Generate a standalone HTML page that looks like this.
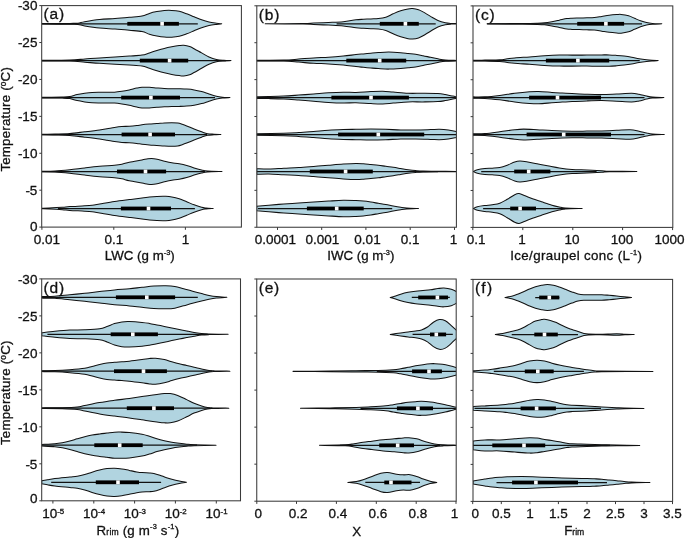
<!DOCTYPE html>
<html><head><meta charset="utf-8"><title>Violin plots</title>
<style>
html,body{margin:0;padding:0;background:#fff;}
svg text{stroke:#111;stroke-width:0.3px;}
body{width:685px;height:538px;overflow:hidden;position:relative;font-family:"Liberation Sans",sans-serif;}
</style></head><body>
<svg width="685" height="538" viewBox="0 0 685 538" style="position:absolute;left:0;top:0;will-change:transform;font-family:'Liberation Sans',sans-serif" fill="#111">
<rect x="0" y="0" width="685" height="538" fill="#fff"/>
<defs>
<clipPath id="cpa"><rect x="41.7" y="5.6" width="199.7" height="221.5"/></clipPath>
<clipPath id="cpb"><rect x="256.8" y="5.8" width="199.6" height="221.45"/></clipPath>
<clipPath id="cpc"><rect x="473" y="5.9" width="199.8" height="221.5"/></clipPath>
<clipPath id="cpd"><rect x="41.7" y="278.9" width="198.8" height="221.9"/></clipPath>
<clipPath id="cpe"><rect x="256.75" y="279" width="199.45" height="222.2"/></clipPath>
<clipPath id="cpf"><rect x="473" y="279.4" width="199.6" height="222"/></clipPath>
</defs>
<g clip-path="url(#cpa)">
<path d="M42 23.5C46.67 23.48 64 23.45 70 23.4C76 23.35 75.55 23.48 78 23.2C80.45 22.92 81.1 22.32 84.7 21.7C88.3 21.08 94.55 20.03 99.6 19.5C104.65 18.97 110.05 18.87 115 18.5C119.95 18.13 124.8 17.7 129.3 17.3C133.8 16.9 138.65 16.75 142 16.1C145.35 15.45 146.92 14.15 149.4 13.4C151.88 12.65 154.42 12.08 156.9 11.6C159.38 11.12 161.82 10.7 164.3 10.5C166.78 10.3 169.32 10.27 171.8 10.4C174.28 10.53 176.72 10.73 179.2 11.3C181.68 11.87 184.22 12.88 186.7 13.8C189.18 14.72 191.62 15.8 194.1 16.8C196.58 17.8 199.12 18.93 201.6 19.8C204.08 20.67 206.53 21.43 209 22C211.47 22.57 214.28 22.9 216.4 23.2C218.52 23.5 220.82 23.7 221.7 23.8L221.7 23.8C220.82 23.9 218.52 24.1 216.4 24.4C214.28 24.7 211.47 25.03 209 25.6C206.53 26.17 204.08 26.93 201.6 27.8C199.12 28.67 196.58 29.8 194.1 30.8C191.62 31.8 189.18 32.88 186.7 33.8C184.22 34.72 181.68 35.73 179.2 36.3C176.72 36.87 174.28 37.07 171.8 37.2C169.32 37.33 166.78 37.3 164.3 37.1C161.82 36.9 159.38 36.48 156.9 36C154.42 35.52 151.88 34.95 149.4 34.2C146.92 33.45 145.35 32.15 142 31.5C138.65 30.85 133.8 30.7 129.3 30.3C124.8 29.9 119.95 29.47 115 29.1C110.05 28.73 104.65 28.63 99.6 28.1C94.55 27.57 88.3 26.52 84.7 25.9C81.1 25.28 80.45 24.68 78 24.4C75.55 24.12 76 24.25 70 24.2C64 24.15 46.67 24.12 42 24.1Z" fill="#b1d4e0" stroke="#111" stroke-width="1.05" stroke-linejoin="round"/><line x1="42" y1="23.8" x2="197.8" y2="23.8" stroke="#111" stroke-width="1.25"/><rect x="127.3" y="21.9" width="51.6" height="3.8" fill="#000"/><rect x="160.3" y="21.9" width="3.6" height="3.8" fill="#fff"/>
<path d="M42 60.3C46.63 60.27 62.63 60.32 69.8 60.1C76.97 59.88 80.03 59.37 85 59C89.97 58.63 94.6 58.23 99.6 57.9C104.6 57.57 110.05 57.3 115 57C119.95 56.7 124.8 56.42 129.3 56.1C133.8 55.78 138.65 55.63 142 55.1C145.35 54.57 146.92 53.67 149.4 52.9C151.88 52.13 154.42 51.25 156.9 50.5C159.38 49.75 161.82 49.02 164.3 48.4C166.78 47.78 169.32 47.27 171.8 46.8C174.28 46.33 177.22 45.85 179.2 45.6C181.18 45.35 181.97 45.15 183.7 45.3C185.43 45.45 187.87 45.93 189.6 46.5C191.33 47.07 192.1 47.63 194.1 48.7C196.1 49.77 199.12 51.53 201.6 52.9C204.08 54.27 206.53 55.82 209 56.9C211.47 57.98 213.92 58.83 216.4 59.4C218.88 59.97 221.47 60.1 223.9 60.3C226.33 60.5 229.82 60.55 231 60.6L231 60.6C229.82 60.65 226.33 60.7 223.9 60.9C221.47 61.1 218.88 61.23 216.4 61.8C213.92 62.37 211.47 63.22 209 64.3C206.53 65.38 204.08 66.93 201.6 68.3C199.12 69.67 196.1 71.43 194.1 72.5C192.1 73.57 191.33 74.13 189.6 74.7C187.87 75.27 185.43 75.75 183.7 75.9C181.97 76.05 181.18 75.85 179.2 75.6C177.22 75.35 174.28 74.87 171.8 74.4C169.32 73.93 166.78 73.42 164.3 72.8C161.82 72.18 159.38 71.45 156.9 70.7C154.42 69.95 151.88 69.07 149.4 68.3C146.92 67.53 145.35 66.63 142 66.1C138.65 65.57 133.8 65.42 129.3 65.1C124.8 64.78 119.95 64.5 115 64.2C110.05 63.9 104.6 63.63 99.6 63.3C94.6 62.97 89.97 62.57 85 62.2C80.03 61.83 76.97 61.32 69.8 61.1C62.63 60.88 46.63 60.93 42 60.9Z" fill="#b1d4e0" stroke="#111" stroke-width="1.05" stroke-linejoin="round"/><line x1="42" y1="60.6" x2="226" y2="60.6" stroke="#111" stroke-width="1.25"/><rect x="139.8" y="58.7" width="48.4" height="3.8" fill="#000"/><rect x="167.8" y="58.7" width="3.6" height="3.8" fill="#fff"/>
<path d="M42 97.3C45.38 97.27 57.67 97.22 62.3 97.1C66.93 96.98 67.32 97.02 69.8 96.6C72.28 96.18 74.72 95.15 77.2 94.6C79.68 94.05 82.22 93.67 84.7 93.3C87.18 92.93 89.62 92.58 92.1 92.4C94.58 92.22 97.12 92.23 99.6 92.2C102.08 92.17 104.52 92.2 107 92.2C109.48 92.2 112.02 92.35 114.5 92.2C116.98 92.05 119.43 91.68 121.9 91.3C124.37 90.92 126.82 90.43 129.3 89.9C131.78 89.37 134.68 88.53 136.8 88.1C138.92 87.67 139.9 87.43 142 87.3C144.1 87.17 146.92 87.2 149.4 87.3C151.88 87.4 154.42 87.72 156.9 87.9C159.38 88.08 161.82 88.27 164.3 88.4C166.78 88.53 169.32 88.63 171.8 88.7C174.28 88.77 176.72 88.73 179.2 88.8C181.68 88.87 184.22 88.92 186.7 89.1C189.18 89.28 191.62 89.48 194.1 89.9C196.58 90.32 199.12 90.92 201.6 91.6C204.08 92.28 206.53 93.22 209 94C211.47 94.78 214.17 95.77 216.4 96.3C218.63 96.83 220.15 96.98 222.4 97.2C224.65 97.42 228.65 97.53 229.9 97.6L229.9 97.6C228.65 97.67 224.65 97.78 222.4 98C220.15 98.22 218.63 98.37 216.4 98.9C214.17 99.43 211.47 100.42 209 101.2C206.53 101.98 204.08 102.92 201.6 103.6C199.12 104.28 196.58 104.88 194.1 105.3C191.62 105.72 189.18 105.92 186.7 106.1C184.22 106.28 181.68 106.33 179.2 106.4C176.72 106.47 174.28 106.43 171.8 106.5C169.32 106.57 166.78 106.67 164.3 106.8C161.82 106.93 159.38 107.12 156.9 107.3C154.42 107.48 151.88 107.8 149.4 107.9C146.92 108 144.1 108.03 142 107.9C139.9 107.77 138.92 107.53 136.8 107.1C134.68 106.67 131.78 105.83 129.3 105.3C126.82 104.77 124.37 104.28 121.9 103.9C119.43 103.52 116.98 103.15 114.5 103C112.02 102.85 109.48 103 107 103C104.52 103 102.08 103.03 99.6 103C97.12 102.97 94.58 102.98 92.1 102.8C89.62 102.62 87.18 102.27 84.7 101.9C82.22 101.53 79.68 101.15 77.2 100.6C74.72 100.05 72.28 99.02 69.8 98.6C67.32 98.18 66.93 98.22 62.3 98.1C57.67 97.98 45.38 97.93 42 97.9Z" fill="#b1d4e0" stroke="#111" stroke-width="1.05" stroke-linejoin="round"/><line x1="42" y1="97.6" x2="215" y2="97.6" stroke="#111" stroke-width="1.25"/><rect x="121.2" y="95.7" width="58.8" height="3.8" fill="#000"/><rect x="149.1" y="95.7" width="3.6" height="3.8" fill="#fff"/>
<path d="M42 134.2C44.17 134.17 50.37 134.12 55 134C59.63 133.88 64.85 133.87 69.8 133.5C74.75 133.13 79.73 132.38 84.7 131.8C89.67 131.22 95.88 130.5 99.6 130C103.32 129.5 104.52 129.23 107 128.8C109.48 128.37 112.02 127.78 114.5 127.4C116.98 127.02 119.43 126.68 121.9 126.5C124.37 126.32 126.82 126.45 129.3 126.3C131.78 126.15 134.68 125.85 136.8 125.6C138.92 125.35 139.9 125.05 142 124.8C144.1 124.55 146.92 124.3 149.4 124.1C151.88 123.9 154.42 123.78 156.9 123.6C159.38 123.42 161.82 123.15 164.3 123C166.78 122.85 169.57 122.68 171.8 122.7C174.03 122.72 175.97 122.83 177.7 123.1C179.43 123.37 180.7 123.83 182.2 124.3C183.7 124.77 184.72 125.12 186.7 125.9C188.68 126.68 191.62 128.02 194.1 129C196.58 129.98 199.37 131.02 201.6 131.8C203.83 132.58 205.43 133.3 207.5 133.7C209.57 134.1 211.77 134.07 214 134.2C216.23 134.33 219.75 134.45 220.9 134.5L220.9 134.5C219.75 134.55 216.23 134.67 214 134.8C211.77 134.93 209.57 134.9 207.5 135.3C205.43 135.7 203.83 136.42 201.6 137.2C199.37 137.98 196.58 139.02 194.1 140C191.62 140.98 188.68 142.32 186.7 143.1C184.72 143.88 183.7 144.23 182.2 144.7C180.7 145.17 179.43 145.63 177.7 145.9C175.97 146.17 174.03 146.28 171.8 146.3C169.57 146.32 166.78 146.15 164.3 146C161.82 145.85 159.38 145.58 156.9 145.4C154.42 145.22 151.88 145.1 149.4 144.9C146.92 144.7 144.1 144.45 142 144.2C139.9 143.95 138.92 143.65 136.8 143.4C134.68 143.15 131.78 142.85 129.3 142.7C126.82 142.55 124.37 142.68 121.9 142.5C119.43 142.32 116.98 141.98 114.5 141.6C112.02 141.22 109.48 140.63 107 140.2C104.52 139.77 103.32 139.5 99.6 139C95.88 138.5 89.67 137.78 84.7 137.2C79.73 136.62 74.75 135.87 69.8 135.5C64.85 135.13 59.63 135.12 55 135C50.37 134.88 44.17 134.83 42 134.8Z" fill="#b1d4e0" stroke="#111" stroke-width="1.05" stroke-linejoin="round"/><line x1="42" y1="134.5" x2="207" y2="134.5" stroke="#111" stroke-width="1.25"/><rect x="121.6" y="132.6" width="53.4" height="3.8" fill="#000"/><rect x="148.3" y="132.6" width="3.6" height="3.8" fill="#fff"/>
<path d="M42 171.2C44.17 171.17 50.37 171.25 55 171C59.63 170.75 64.85 170.22 69.8 169.7C74.75 169.18 79.73 168.47 84.7 167.9C89.67 167.33 94.63 166.75 99.6 166.3C104.57 165.85 110.78 165.55 114.5 165.2C118.22 164.85 119.43 164.68 121.9 164.2C124.37 163.72 125.95 163 129.3 162.3C132.65 161.6 138.88 160.58 142 160C145.12 159.42 146.02 159.02 148 158.8C149.98 158.58 151.92 158.5 153.9 158.7C155.88 158.9 157.92 159.53 159.9 160C161.88 160.47 163.82 161.05 165.8 161.5C167.78 161.95 169.57 162.32 171.8 162.7C174.03 163.08 176.72 163.33 179.2 163.8C181.68 164.27 184.22 164.82 186.7 165.5C189.18 166.18 191.62 167.15 194.1 167.9C196.58 168.65 199.37 169.48 201.6 170C203.83 170.52 204.1 170.75 207.5 171C210.9 171.25 219.58 171.42 222 171.5L222 171.5C219.58 171.58 210.9 171.75 207.5 172C204.1 172.25 203.83 172.48 201.6 173C199.37 173.52 196.58 174.35 194.1 175.1C191.62 175.85 189.18 176.82 186.7 177.5C184.22 178.18 181.68 178.73 179.2 179.2C176.72 179.67 174.03 179.92 171.8 180.3C169.57 180.68 167.78 181.05 165.8 181.5C163.82 181.95 161.88 182.53 159.9 183C157.92 183.47 155.88 184.1 153.9 184.3C151.92 184.5 149.98 184.42 148 184.2C146.02 183.98 145.12 183.58 142 183C138.88 182.42 132.65 181.4 129.3 180.7C125.95 180 124.37 179.28 121.9 178.8C119.43 178.32 118.22 178.15 114.5 177.8C110.78 177.45 104.57 177.15 99.6 176.7C94.63 176.25 89.67 175.67 84.7 175.1C79.73 174.53 74.75 173.82 69.8 173.3C64.85 172.78 59.63 172.25 55 172C50.37 171.75 44.17 171.83 42 171.8Z" fill="#b1d4e0" stroke="#111" stroke-width="1.05" stroke-linejoin="round"/><line x1="42" y1="171.5" x2="205" y2="171.5" stroke="#111" stroke-width="1.25"/><rect x="117" y="169.6" width="49.1" height="3.8" fill="#000"/><rect x="143.7" y="169.6" width="3.6" height="3.8" fill="#fff"/>
<path d="M42 208.2C43.17 208.17 45.62 208.15 49 208C52.38 207.85 58.83 207.53 62.3 207.3C65.77 207.07 66.07 206.85 69.8 206.6C73.53 206.35 80.98 206.03 84.7 205.8C88.42 205.57 89.62 205.5 92.1 205.2C94.58 204.9 95.87 204.62 99.6 204C103.33 203.38 109.55 202.23 114.5 201.5C119.45 200.77 124.72 200.17 129.3 199.6C133.88 199.03 138.65 198.53 142 198.1C145.35 197.67 146.92 197.28 149.4 197C151.88 196.72 154.17 196.52 156.9 196.4C159.63 196.28 163.32 196.22 165.8 196.3C168.28 196.38 169.57 196.48 171.8 196.9C174.03 197.32 176.72 197.98 179.2 198.8C181.68 199.62 184.22 200.8 186.7 201.8C189.18 202.8 191.62 203.88 194.1 204.8C196.58 205.72 199.62 206.77 201.6 207.3C203.58 207.83 204.07 207.8 206 208C207.93 208.2 212 208.42 213.2 208.5L213.2 208.5C212 208.58 207.93 208.8 206 209C204.07 209.2 203.58 209.17 201.6 209.7C199.62 210.23 196.58 211.28 194.1 212.2C191.62 213.12 189.18 214.2 186.7 215.2C184.22 216.2 181.68 217.38 179.2 218.2C176.72 219.02 174.03 219.68 171.8 220.1C169.57 220.52 168.28 220.62 165.8 220.7C163.32 220.78 159.63 220.72 156.9 220.6C154.17 220.48 151.88 220.28 149.4 220C146.92 219.72 145.35 219.33 142 218.9C138.65 218.47 133.88 217.97 129.3 217.4C124.72 216.83 119.45 216.23 114.5 215.5C109.55 214.77 103.33 213.62 99.6 213C95.87 212.38 94.58 212.1 92.1 211.8C89.62 211.5 88.42 211.43 84.7 211.2C80.98 210.97 73.53 210.65 69.8 210.4C66.07 210.15 65.77 209.93 62.3 209.7C58.83 209.47 52.38 209.15 49 209C45.62 208.85 43.17 208.83 42 208.8Z" fill="#b1d4e0" stroke="#111" stroke-width="1.05" stroke-linejoin="round"/><line x1="57.9" y1="208.5" x2="194.9" y2="208.5" stroke="#111" stroke-width="1.25"/><rect x="120.9" y="206.6" width="50.1" height="3.8" fill="#000"/><rect x="146.7" y="206.6" width="3.6" height="3.8" fill="#fff"/>
</g>
<g clip-path="url(#cpb)">
<path d="M265.2 23.8C271.5 23.75 294.93 23.62 303 23.5C311.07 23.38 309.35 23.27 313.6 23.1C317.85 22.93 323.55 22.73 328.5 22.5C333.45 22.27 338.72 22.15 343.3 21.7C347.88 21.25 352.65 20.2 356 19.8C359.35 19.4 360.92 19.45 363.4 19.3C365.88 19.15 368.42 19.02 370.9 18.9C373.38 18.78 375.82 18.88 378.3 18.6C380.78 18.32 383.32 18 385.8 17.2C388.28 16.4 390.72 14.87 393.2 13.8C395.68 12.73 398.22 11.62 400.7 10.8C403.18 9.98 406.12 9.27 408.1 8.9C410.08 8.53 410.87 8.47 412.6 8.6C414.33 8.73 416.77 9.15 418.5 9.7C420.23 10.25 421 10.78 423 11.9C425 13.02 428.02 14.97 430.5 16.4C432.98 17.83 435.43 19.43 437.9 20.5C440.37 21.57 443.07 22.3 445.3 22.8C447.53 23.3 449.43 23.37 451.3 23.5C453.17 23.63 455.63 23.58 456.5 23.6L456.5 24C455.63 24.02 453.17 23.97 451.3 24.1C449.43 24.23 447.53 24.3 445.3 24.8C443.07 25.3 440.37 26.03 437.9 27.1C435.43 28.17 432.98 29.77 430.5 31.2C428.02 32.63 425 34.58 423 35.7C421 36.82 420.23 37.35 418.5 37.9C416.77 38.45 414.33 38.87 412.6 39C410.87 39.13 410.08 39.07 408.1 38.7C406.12 38.33 403.18 37.62 400.7 36.8C398.22 35.98 395.68 34.87 393.2 33.8C390.72 32.73 388.28 31.2 385.8 30.4C383.32 29.6 380.78 29.28 378.3 29C375.82 28.72 373.38 28.82 370.9 28.7C368.42 28.58 365.88 28.45 363.4 28.3C360.92 28.15 359.35 28.2 356 27.8C352.65 27.4 347.88 26.35 343.3 25.9C338.72 25.45 333.45 25.33 328.5 25.1C323.55 24.87 317.85 24.67 313.6 24.5C309.35 24.33 311.07 24.22 303 24.1C294.93 23.98 271.5 23.85 265.2 23.8Z" fill="#b1d4e0" stroke="#111" stroke-width="1.05" stroke-linejoin="round"/><line x1="336.6" y1="23.8" x2="435.7" y2="23.8" stroke="#111" stroke-width="1.25"/><rect x="379.8" y="21.9" width="39" height="3.8" fill="#000"/><rect x="403.6" y="21.9" width="3.6" height="3.8" fill="#fff"/>
<path d="M256.7 60.3C261.22 60.27 276.8 60.3 283.8 60.1C290.8 59.9 293.73 59.47 298.7 59.1C303.67 58.73 308.63 58.2 313.6 57.9C318.57 57.6 323.55 57.6 328.5 57.3C333.45 57 338.72 56.55 343.3 56.1C347.88 55.65 352.65 54.97 356 54.6C359.35 54.23 360.92 54.13 363.4 53.9C365.88 53.67 368.42 53.42 370.9 53.2C373.38 52.98 375.32 52.78 378.3 52.6C381.28 52.42 385.07 52.08 388.8 52.1C392.53 52.12 397.48 52.47 400.7 52.7C403.92 52.93 405.62 53.23 408.1 53.5C410.58 53.77 413.12 53.93 415.6 54.3C418.08 54.67 420.52 55.2 423 55.7C425.48 56.2 428.02 56.78 430.5 57.3C432.98 57.82 435.43 58.35 437.9 58.8C440.37 59.25 442.2 59.73 445.3 60C448.4 60.27 454.63 60.33 456.5 60.4L456.5 60.8C454.63 60.87 448.4 60.93 445.3 61.2C442.2 61.47 440.37 61.95 437.9 62.4C435.43 62.85 432.98 63.38 430.5 63.9C428.02 64.42 425.48 65 423 65.5C420.52 66 418.08 66.53 415.6 66.9C413.12 67.27 410.58 67.43 408.1 67.7C405.62 67.97 403.92 68.27 400.7 68.5C397.48 68.73 392.53 69.08 388.8 69.1C385.07 69.12 381.28 68.78 378.3 68.6C375.32 68.42 373.38 68.22 370.9 68C368.42 67.78 365.88 67.53 363.4 67.3C360.92 67.07 359.35 66.97 356 66.6C352.65 66.23 347.88 65.55 343.3 65.1C338.72 64.65 333.45 64.2 328.5 63.9C323.55 63.6 318.57 63.6 313.6 63.3C308.63 63 303.67 62.47 298.7 62.1C293.73 61.73 290.8 61.3 283.8 61.1C276.8 60.9 261.22 60.93 256.7 60.9Z" fill="#b1d4e0" stroke="#111" stroke-width="1.05" stroke-linejoin="round"/><line x1="256.7" y1="60.6" x2="456.5" y2="60.6" stroke="#111" stroke-width="1.25"/><rect x="346.3" y="58.7" width="59.9" height="3.8" fill="#000"/><rect x="377.9" y="58.7" width="3.6" height="3.8" fill="#fff"/>
<path d="M256.7 96.8C258.73 96.77 264.38 96.72 268.9 96.6C273.42 96.48 278.83 96.35 283.8 96.1C288.77 95.85 293.73 95.45 298.7 95.1C303.67 94.75 308.63 94.38 313.6 94C318.57 93.62 323.55 93.1 328.5 92.8C333.45 92.5 338.72 92.27 343.3 92.2C347.88 92.13 351.4 92.5 356 92.4C360.6 92.3 366.43 91.78 370.9 91.6C375.37 91.42 379.08 91.22 382.8 91.3C386.52 91.38 388.98 91.77 393.2 92.1C397.42 92.43 403.13 93.1 408.1 93.3C413.07 93.5 418.03 93.25 423 93.3C427.97 93.35 434.18 93.38 437.9 93.6C441.62 93.82 442.82 94.18 445.3 94.6C447.78 95.02 450.93 95.73 452.8 96.1C454.67 96.47 455.88 96.68 456.5 96.8L456.5 98.4C455.88 98.52 454.67 98.73 452.8 99.1C450.93 99.47 447.78 100.18 445.3 100.6C442.82 101.02 441.62 101.38 437.9 101.6C434.18 101.82 427.97 101.85 423 101.9C418.03 101.95 413.07 101.7 408.1 101.9C403.13 102.1 397.42 102.77 393.2 103.1C388.98 103.43 386.52 103.82 382.8 103.9C379.08 103.98 375.37 103.78 370.9 103.6C366.43 103.42 360.6 102.9 356 102.8C351.4 102.7 347.88 103.07 343.3 103C338.72 102.93 333.45 102.7 328.5 102.4C323.55 102.1 318.57 101.58 313.6 101.2C308.63 100.82 303.67 100.45 298.7 100.1C293.73 99.75 288.77 99.35 283.8 99.1C278.83 98.85 273.42 98.72 268.9 98.6C264.38 98.48 258.73 98.43 256.7 98.4Z" fill="#b1d4e0" stroke="#111" stroke-width="1.05" stroke-linejoin="round"/><line x1="256.7" y1="97.6" x2="456.5" y2="97.6" stroke="#111" stroke-width="1.25"/><rect x="331.4" y="95.7" width="77.5" height="3.8" fill="#000"/><rect x="369.2" y="95.7" width="3.6" height="3.8" fill="#fff"/>
<path d="M256.7 133.7C261.22 133.63 276.8 133.48 283.8 133.3C290.8 133.12 293.73 132.9 298.7 132.6C303.67 132.3 308.63 131.88 313.6 131.5C318.57 131.12 323.55 130.62 328.5 130.3C333.45 129.98 338.72 129.77 343.3 129.6C347.88 129.43 351.4 129.4 356 129.3C360.6 129.2 365.93 129 370.9 129C375.87 129 380.83 129.13 385.8 129.3C390.77 129.47 395.73 129.88 400.7 130C405.67 130.12 410.63 130.07 415.6 130C420.57 129.93 426.53 129.72 430.5 129.6C434.47 129.48 436.43 129.23 439.4 129.3C442.37 129.37 445.45 129.63 448.3 130C451.15 130.37 455.13 131.25 456.5 131.5L456.5 137.5C455.13 137.75 451.15 138.63 448.3 139C445.45 139.37 442.37 139.63 439.4 139.7C436.43 139.77 434.47 139.52 430.5 139.4C426.53 139.28 420.57 139.07 415.6 139C410.63 138.93 405.67 138.88 400.7 139C395.73 139.12 390.77 139.53 385.8 139.7C380.83 139.87 375.87 140 370.9 140C365.93 140 360.6 139.8 356 139.7C351.4 139.6 347.88 139.57 343.3 139.4C338.72 139.23 333.45 139.02 328.5 138.7C323.55 138.38 318.57 137.88 313.6 137.5C308.63 137.12 303.67 136.7 298.7 136.4C293.73 136.1 290.8 135.88 283.8 135.7C276.8 135.52 261.22 135.37 256.7 135.3Z" fill="#b1d4e0" stroke="#111" stroke-width="1.05" stroke-linejoin="round"/><line x1="256.7" y1="134.5" x2="456.5" y2="134.5" stroke="#111" stroke-width="1.25"/><rect x="338.1" y="132.6" width="86.1" height="3.8" fill="#000"/><rect x="376.5" y="132.6" width="3.6" height="3.8" fill="#fff"/>
<path d="M256.7 168.7C258.73 168.75 264.38 169.08 268.9 169C273.42 168.92 278.83 168.45 283.8 168.2C288.77 167.95 293.73 167.8 298.7 167.5C303.67 167.2 308.63 166.78 313.6 166.4C318.57 166.02 323.55 165.58 328.5 165.2C333.45 164.82 338.72 164.38 343.3 164.1C347.88 163.82 352.65 163.55 356 163.5C359.35 163.45 360.92 163.63 363.4 163.8C365.88 163.97 368.42 164.27 370.9 164.5C373.38 164.73 375.82 164.9 378.3 165.2C380.78 165.5 383.32 165.95 385.8 166.3C388.28 166.65 390.72 166.93 393.2 167.3C395.68 167.67 398.22 168.1 400.7 168.5C403.18 168.9 405.62 169.35 408.1 169.7C410.58 170.05 413.12 170.37 415.6 170.6C418.08 170.83 419.28 170.98 423 171.1C426.72 171.22 432.32 171.25 437.9 171.3C443.48 171.35 453.4 171.38 456.5 171.4L456.5 171.6C453.4 171.62 443.48 171.65 437.9 171.7C432.32 171.75 426.72 171.78 423 171.9C419.28 172.02 418.08 172.17 415.6 172.4C413.12 172.63 410.58 172.95 408.1 173.3C405.62 173.65 403.18 174.1 400.7 174.5C398.22 174.9 395.68 175.33 393.2 175.7C390.72 176.07 388.28 176.35 385.8 176.7C383.32 177.05 380.78 177.5 378.3 177.8C375.82 178.1 373.38 178.27 370.9 178.5C368.42 178.73 365.88 179.03 363.4 179.2C360.92 179.37 359.35 179.55 356 179.5C352.65 179.45 347.88 179.18 343.3 178.9C338.72 178.62 333.45 178.18 328.5 177.8C323.55 177.42 318.57 176.98 313.6 176.6C308.63 176.22 303.67 175.8 298.7 175.5C293.73 175.2 288.77 175.05 283.8 174.8C278.83 174.55 273.42 174.08 268.9 174C264.38 173.92 258.73 174.25 256.7 174.3Z" fill="#b1d4e0" stroke="#111" stroke-width="1.05" stroke-linejoin="round"/><line x1="256.7" y1="171.5" x2="437.9" y2="171.5" stroke="#111" stroke-width="1.25"/><rect x="309.8" y="169.6" width="63" height="3.8" fill="#000"/><rect x="343.8" y="169.6" width="3.6" height="3.8" fill="#fff"/>
<path d="M256.7 206.3C258.73 206.12 264.38 205.58 268.9 205.2C273.42 204.82 278.83 204.37 283.8 204C288.77 203.63 293.73 203.32 298.7 203C303.67 202.68 308.63 202.42 313.6 202.1C318.57 201.78 323.55 201.4 328.5 201.1C333.45 200.8 338.72 200.38 343.3 200.3C347.88 200.22 352.65 200.47 356 200.6C359.35 200.73 360.92 200.85 363.4 201.1C365.88 201.35 368.42 201.73 370.9 202.1C373.38 202.47 375.82 202.9 378.3 203.3C380.78 203.7 383.32 204.05 385.8 204.5C388.28 204.95 390.72 205.53 393.2 206C395.68 206.47 398.47 206.97 400.7 207.3C402.93 207.63 403.63 207.8 406.6 208C409.57 208.2 416.52 208.42 418.5 208.5L418.5 208.5C416.52 208.58 409.57 208.8 406.6 209C403.63 209.2 402.93 209.37 400.7 209.7C398.47 210.03 395.68 210.53 393.2 211C390.72 211.47 388.28 212.05 385.8 212.5C383.32 212.95 380.78 213.3 378.3 213.7C375.82 214.1 373.38 214.53 370.9 214.9C368.42 215.27 365.88 215.65 363.4 215.9C360.92 216.15 359.35 216.27 356 216.4C352.65 216.53 347.88 216.78 343.3 216.7C338.72 216.62 333.45 216.2 328.5 215.9C323.55 215.6 318.57 215.22 313.6 214.9C308.63 214.58 303.67 214.32 298.7 214C293.73 213.68 288.77 213.37 283.8 213C278.83 212.63 273.42 212.18 268.9 211.8C264.38 211.42 258.73 210.88 256.7 210.7Z" fill="#b1d4e0" stroke="#111" stroke-width="1.05" stroke-linejoin="round"/><line x1="258" y1="208.5" x2="392.2" y2="208.5" stroke="#111" stroke-width="1.25"/><rect x="306.9" y="206.6" width="56.8" height="3.8" fill="#000"/><rect x="334.9" y="206.6" width="3.6" height="3.8" fill="#fff"/>
</g>
<g clip-path="url(#cpc)">
<path d="M487.1 23.8C492.93 23.75 513.78 23.6 522.1 23.5C530.42 23.4 533.27 23.32 537 23.2C540.73 23.08 542.02 23.05 544.5 22.8C546.98 22.55 549.43 22.13 551.9 21.7C554.37 21.27 556.82 20.72 559.3 20.2C561.78 19.68 564.68 18.93 566.8 18.6C568.92 18.27 569.9 18.3 572 18.2C574.1 18.1 576.92 18.07 579.4 18C581.88 17.93 584.42 17.88 586.9 17.8C589.38 17.72 591.82 17.73 594.3 17.5C596.78 17.27 599.32 16.77 601.8 16.4C604.28 16.03 606.72 15.6 609.2 15.3C611.68 15 614.72 14.75 616.7 14.6C618.68 14.45 619.12 14.2 621.1 14.4C623.08 14.6 626.37 15.15 628.6 15.8C630.83 16.45 632.52 17.47 634.5 18.3C636.48 19.13 638.5 20.08 640.5 20.8C642.5 21.52 644.52 22.17 646.5 22.6C648.48 23.03 649.85 23.2 652.4 23.4C654.95 23.6 660.23 23.73 661.8 23.8L661.8 23.8C660.23 23.87 654.95 24 652.4 24.2C649.85 24.4 648.48 24.57 646.5 25C644.52 25.43 642.5 26.08 640.5 26.8C638.5 27.52 636.48 28.47 634.5 29.3C632.52 30.13 630.83 31.15 628.6 31.8C626.37 32.45 623.08 33 621.1 33.2C619.12 33.4 618.68 33.15 616.7 33C614.72 32.85 611.68 32.6 609.2 32.3C606.72 32 604.28 31.57 601.8 31.2C599.32 30.83 596.78 30.33 594.3 30.1C591.82 29.87 589.38 29.88 586.9 29.8C584.42 29.72 581.88 29.67 579.4 29.6C576.92 29.53 574.1 29.5 572 29.4C569.9 29.3 568.92 29.33 566.8 29C564.68 28.67 561.78 27.92 559.3 27.4C556.82 26.88 554.37 26.33 551.9 25.9C549.43 25.47 546.98 25.05 544.5 24.8C542.02 24.55 540.73 24.52 537 24.4C533.27 24.28 530.42 24.2 522.1 24.1C513.78 24 492.93 23.85 487.1 23.8Z" fill="#b1d4e0" stroke="#111" stroke-width="1.05" stroke-linejoin="round"/><line x1="487.1" y1="23.8" x2="642" y2="23.8" stroke="#111" stroke-width="1.25"/><rect x="577.2" y="21.9" width="46.9" height="3.8" fill="#000"/><rect x="604.1" y="21.9" width="3.6" height="3.8" fill="#fff"/>
<path d="M473 60.3C474.98 60.27 480.43 60.18 484.9 60.1C489.37 60.02 496.08 60.02 499.8 59.8C503.52 59.58 504.72 59.12 507.2 58.8C509.68 58.48 510.97 58.22 514.7 57.9C518.43 57.58 524.63 57.25 529.6 56.9C534.57 56.55 539.55 56.1 544.5 55.8C549.45 55.5 554.72 55.22 559.3 55.1C563.88 54.98 567.4 55.1 572 55.1C576.6 55.1 581.93 55.13 586.9 55.1C591.87 55.07 598.08 54.93 601.8 54.9C605.52 54.87 606.72 54.82 609.2 54.9C611.68 54.98 614.22 55.2 616.7 55.4C619.18 55.6 621.62 55.8 624.1 56.1C626.58 56.4 629.12 56.77 631.6 57.2C634.08 57.63 636.52 58.27 639 58.7C641.48 59.13 644.33 59.53 646.5 59.8C648.67 60.07 650.07 60.17 652 60.3C653.93 60.43 657.08 60.55 658.1 60.6L658.1 60.6C657.08 60.65 653.93 60.77 652 60.9C650.07 61.03 648.67 61.13 646.5 61.4C644.33 61.67 641.48 62.07 639 62.5C636.52 62.93 634.08 63.57 631.6 64C629.12 64.43 626.58 64.8 624.1 65.1C621.62 65.4 619.18 65.6 616.7 65.8C614.22 66 611.68 66.22 609.2 66.3C606.72 66.38 605.52 66.33 601.8 66.3C598.08 66.27 591.87 66.13 586.9 66.1C581.93 66.07 576.6 66.1 572 66.1C567.4 66.1 563.88 66.22 559.3 66.1C554.72 65.98 549.45 65.7 544.5 65.4C539.55 65.1 534.57 64.65 529.6 64.3C524.63 63.95 518.43 63.62 514.7 63.3C510.97 62.98 509.68 62.72 507.2 62.4C504.72 62.08 503.52 61.62 499.8 61.4C496.08 61.18 489.37 61.18 484.9 61.1C480.43 61.02 474.98 60.93 473 60.9Z" fill="#b1d4e0" stroke="#111" stroke-width="1.05" stroke-linejoin="round"/><line x1="473" y1="60.6" x2="639.7" y2="60.6" stroke="#111" stroke-width="1.25"/><rect x="545.9" y="58.7" width="63.3" height="3.8" fill="#000"/><rect x="576.1" y="58.7" width="3.6" height="3.8" fill="#fff"/>
<path d="M473 96.9C474.98 96.88 480.43 97.05 484.9 96.8C489.37 96.55 494.83 95.98 499.8 95.4C504.77 94.82 509.73 93.9 514.7 93.3C519.67 92.7 525.63 92.1 529.6 91.8C533.57 91.5 534.78 91.4 538.5 91.5C542.22 91.6 547.93 92.13 551.9 92.4C555.87 92.67 558.95 92.9 562.3 93.1C565.65 93.3 567.9 93.4 572 93.6C576.1 93.8 581.93 94.13 586.9 94.3C591.87 94.47 596.83 94.65 601.8 94.6C606.77 94.55 611.73 94.22 616.7 94C621.67 93.78 627.88 93.25 631.6 93.3C635.32 93.35 636.52 93.83 639 94.3C641.48 94.77 644.27 95.63 646.5 96.1C648.73 96.57 649.5 96.85 652.4 97.1C655.3 97.35 661.98 97.52 663.9 97.6L663.9 97.6C661.98 97.68 655.3 97.85 652.4 98.1C649.5 98.35 648.73 98.63 646.5 99.1C644.27 99.57 641.48 100.43 639 100.9C636.52 101.37 635.32 101.85 631.6 101.9C627.88 101.95 621.67 101.42 616.7 101.2C611.73 100.98 606.77 100.65 601.8 100.6C596.83 100.55 591.87 100.73 586.9 100.9C581.93 101.07 576.1 101.4 572 101.6C567.9 101.8 565.65 101.9 562.3 102.1C558.95 102.3 555.87 102.53 551.9 102.8C547.93 103.07 542.22 103.6 538.5 103.7C534.78 103.8 533.57 103.7 529.6 103.4C525.63 103.1 519.67 102.5 514.7 101.9C509.73 101.3 504.77 100.38 499.8 99.8C494.83 99.22 489.37 98.65 484.9 98.4C480.43 98.15 474.98 98.32 473 98.3Z" fill="#b1d4e0" stroke="#111" stroke-width="1.05" stroke-linejoin="round"/><line x1="473" y1="97.6" x2="644.5" y2="97.6" stroke="#111" stroke-width="1.25"/><rect x="529.1" y="95.7" width="71.9" height="3.8" fill="#000"/><rect x="555.7" y="95.7" width="3.6" height="3.8" fill="#fff"/>
<path d="M473 133.8C474.98 133.77 480.43 133.93 484.9 133.6C489.37 133.27 494.83 132.45 499.8 131.8C504.77 131.15 510.73 130.15 514.7 129.7C518.67 129.25 519.88 129.1 523.6 129.1C527.32 129.1 532.28 129.45 537 129.7C541.72 129.95 546.07 130.35 551.9 130.6C557.73 130.85 566.17 131.12 572 131.2C577.83 131.28 581.93 131.15 586.9 131.1C591.87 131.05 596.83 131.03 601.8 130.9C606.77 130.77 611.98 130.5 616.7 130.3C621.42 130.1 626.38 129.55 630.1 129.7C633.82 129.85 636.27 130.65 639 131.2C641.73 131.75 644.27 132.53 646.5 133C648.73 133.47 649.43 133.75 652.4 134C655.37 134.25 662.32 134.42 664.3 134.5L664.3 134.5C662.32 134.58 655.37 134.75 652.4 135C649.43 135.25 648.73 135.53 646.5 136C644.27 136.47 641.73 137.25 639 137.8C636.27 138.35 633.82 139.15 630.1 139.3C626.38 139.45 621.42 138.9 616.7 138.7C611.98 138.5 606.77 138.23 601.8 138.1C596.83 137.97 591.87 137.95 586.9 137.9C581.93 137.85 577.83 137.72 572 137.8C566.17 137.88 557.73 138.15 551.9 138.4C546.07 138.65 541.72 139.05 537 139.3C532.28 139.55 527.32 139.9 523.6 139.9C519.88 139.9 518.67 139.75 514.7 139.3C510.73 138.85 504.77 137.85 499.8 137.2C494.83 136.55 489.37 135.73 484.9 135.4C480.43 135.07 474.98 135.23 473 135.2Z" fill="#b1d4e0" stroke="#111" stroke-width="1.05" stroke-linejoin="round"/><line x1="473" y1="134.5" x2="644.5" y2="134.5" stroke="#111" stroke-width="1.25"/><rect x="526.6" y="132.6" width="84.4" height="3.8" fill="#000"/><rect x="561.9" y="132.6" width="3.6" height="3.8" fill="#fff"/>
<path d="M473.3 171.5C473.98 171.2 475.47 170.2 477.4 169.7C479.33 169.2 482.42 168.75 484.9 168.5C487.38 168.25 489.82 168.37 492.3 168.2C494.78 168.03 497.32 168 499.8 167.5C502.28 167 504.72 166.12 507.2 165.2C509.68 164.28 512.58 162.68 514.7 162C516.82 161.32 517.92 161.13 519.9 161.1C521.88 161.07 523.75 161.35 526.6 161.8C529.45 162.25 533.53 163.15 537 163.8C540.47 164.45 543.68 165.02 547.4 165.7C551.12 166.38 555.2 167.28 559.3 167.9C563.4 168.52 567.4 169.05 572 169.4C576.6 169.75 581.93 169.78 586.9 170C591.87 170.22 598.08 170.5 601.8 170.7C605.52 170.9 603.37 171.07 609.2 171.2C615.03 171.33 632.2 171.45 636.8 171.5L636.8 171.5C632.2 171.55 615.03 171.67 609.2 171.8C603.37 171.93 605.52 172.1 601.8 172.3C598.08 172.5 591.87 172.78 586.9 173C581.93 173.22 576.6 173.25 572 173.6C567.4 173.95 563.4 174.48 559.3 175.1C555.2 175.72 551.12 176.62 547.4 177.3C543.68 177.98 540.47 178.55 537 179.2C533.53 179.85 529.45 180.75 526.6 181.2C523.75 181.65 521.88 181.93 519.9 181.9C517.92 181.87 516.82 181.68 514.7 181C512.58 180.32 509.68 178.72 507.2 177.8C504.72 176.88 502.28 176 499.8 175.5C497.32 175 494.78 174.97 492.3 174.8C489.82 174.63 487.38 174.75 484.9 174.5C482.42 174.25 479.33 173.8 477.4 173.3C475.47 172.8 473.98 171.8 473.3 171.5Z" fill="#b1d4e0" stroke="#111" stroke-width="1.05" stroke-linejoin="round"/><line x1="481.2" y1="171.5" x2="596.6" y2="171.5" stroke="#111" stroke-width="1.25"/><rect x="514.2" y="169.6" width="36.2" height="3.8" fill="#000"/><rect x="526.9" y="169.6" width="3.6" height="3.8" fill="#fff"/>
<path d="M473.3 208.5C473.98 208.2 475.47 207.2 477.4 206.7C479.33 206.2 482.42 205.82 484.9 205.5C487.38 205.18 489.82 205.17 492.3 204.8C494.78 204.43 497.32 204.22 499.8 203.3C502.28 202.38 504.72 200.73 507.2 199.3C509.68 197.87 512.72 195.65 514.7 194.7C516.68 193.75 517.37 193.42 519.1 193.6C520.83 193.78 522.87 194.93 525.1 195.8C527.33 196.67 529.77 197.8 532.5 198.8C535.23 199.8 538.27 200.73 541.5 201.8C544.73 202.87 548.93 204.33 551.9 205.2C554.87 206.07 557.07 206.53 559.3 207C561.53 207.47 561.5 207.75 565.3 208C569.1 208.25 579.3 208.42 582.1 208.5L582.1 208.5C579.3 208.58 569.1 208.75 565.3 209C561.5 209.25 561.53 209.53 559.3 210C557.07 210.47 554.87 210.93 551.9 211.8C548.93 212.67 544.73 214.13 541.5 215.2C538.27 216.27 535.23 217.2 532.5 218.2C529.77 219.2 527.33 220.33 525.1 221.2C522.87 222.07 520.83 223.22 519.1 223.4C517.37 223.58 516.68 223.25 514.7 222.3C512.72 221.35 509.68 219.13 507.2 217.7C504.72 216.27 502.28 214.62 499.8 213.7C497.32 212.78 494.78 212.57 492.3 212.2C489.82 211.83 487.38 211.82 484.9 211.5C482.42 211.18 479.33 210.8 477.4 210.3C475.47 209.8 473.98 208.8 473.3 208.5Z" fill="#b1d4e0" stroke="#111" stroke-width="1.05" stroke-linejoin="round"/><line x1="483.1" y1="208.5" x2="565" y2="208.5" stroke="#111" stroke-width="1.25"/><rect x="510.2" y="206.6" width="25.8" height="3.8" fill="#000"/><rect x="518.3" y="206.6" width="3.6" height="3.8" fill="#fff"/>
</g>
<g clip-path="url(#cpd)">
<path d="M41.7 296.5C43.9 296.47 50.22 296.58 54.9 296.3C59.58 296.02 64.83 295.3 69.8 294.8C74.77 294.3 79.73 293.83 84.7 293.3C89.67 292.77 94.63 292.17 99.6 291.6C104.57 291.03 109.55 290.38 114.5 289.9C119.45 289.42 124.72 289.13 129.3 288.7C133.88 288.27 137.9 287.73 142 287.3C146.1 286.87 149.93 286.35 153.9 286.1C157.87 285.85 162.32 285.75 165.8 285.8C169.28 285.85 171.82 285.9 174.8 286.4C177.78 286.9 180.73 287.98 183.7 288.8C186.67 289.62 189.62 290.5 192.6 291.3C195.58 292.1 198.87 292.92 201.6 293.6C204.33 294.28 206.53 294.9 209 295.4C211.47 295.9 213.42 296.28 216.4 296.6C219.38 296.92 225.15 297.18 226.9 297.3L226.9 297.3C225.15 297.42 219.38 297.68 216.4 298C213.42 298.32 211.47 298.7 209 299.2C206.53 299.7 204.33 300.32 201.6 301C198.87 301.68 195.58 302.5 192.6 303.3C189.62 304.1 186.67 304.98 183.7 305.8C180.73 306.62 177.78 307.7 174.8 308.2C171.82 308.7 169.28 308.75 165.8 308.8C162.32 308.85 157.87 308.75 153.9 308.5C149.93 308.25 146.1 307.73 142 307.3C137.9 306.87 133.88 306.33 129.3 305.9C124.72 305.47 119.45 305.18 114.5 304.7C109.55 304.22 104.57 303.57 99.6 303C94.63 302.43 89.67 301.83 84.7 301.3C79.73 300.77 74.77 300.3 69.8 299.8C64.83 299.3 59.58 298.58 54.9 298.3C50.22 298.02 43.9 298.13 41.7 298.1Z" fill="#b1d4e0" stroke="#111" stroke-width="1.05" stroke-linejoin="round"/><line x1="41.7" y1="297.3" x2="197.8" y2="297.3" stroke="#111" stroke-width="1.25"/><rect x="115.9" y="295.4" width="59.2" height="3.8" fill="#000"/><rect x="145" y="295.4" width="3.6" height="3.8" fill="#fff"/>
<path d="M41.7 332.8C43.9 332.55 50.22 331.75 54.9 331.3C59.58 330.85 64.83 330.35 69.8 330.1C74.77 329.85 79.73 330.02 84.7 329.8C89.67 329.58 95.88 329.33 99.6 328.8C103.32 328.27 104.52 327.47 107 326.6C109.48 325.73 112.02 324.38 114.5 323.6C116.98 322.82 119.43 322.23 121.9 321.9C124.37 321.57 125.95 321.52 129.3 321.6C132.65 321.68 138.65 322.1 142 322.4C145.35 322.7 146.92 322.98 149.4 323.4C151.88 323.82 154.42 324.4 156.9 324.9C159.38 325.4 161.82 325.88 164.3 326.4C166.78 326.92 169.32 327.48 171.8 328C174.28 328.52 176.72 329 179.2 329.5C181.68 330 184.22 330.52 186.7 331C189.18 331.48 191.62 331.97 194.1 332.4C196.58 332.83 199.12 333.33 201.6 333.6C204.08 333.87 204.58 333.88 209 334C213.42 334.12 224.92 334.25 228.1 334.3L228.1 334.3C224.92 334.35 213.42 334.48 209 334.6C204.58 334.72 204.08 334.73 201.6 335C199.12 335.27 196.58 335.77 194.1 336.2C191.62 336.63 189.18 337.12 186.7 337.6C184.22 338.08 181.68 338.6 179.2 339.1C176.72 339.6 174.28 340.08 171.8 340.6C169.32 341.12 166.78 341.68 164.3 342.2C161.82 342.72 159.38 343.2 156.9 343.7C154.42 344.2 151.88 344.78 149.4 345.2C146.92 345.62 145.35 345.9 142 346.2C138.65 346.5 132.65 346.92 129.3 347C125.95 347.08 124.37 347.03 121.9 346.7C119.43 346.37 116.98 345.78 114.5 345C112.02 344.22 109.48 342.87 107 342C104.52 341.13 103.32 340.33 99.6 339.8C95.88 339.27 89.67 339.02 84.7 338.8C79.73 338.58 74.77 338.75 69.8 338.5C64.83 338.25 59.58 337.75 54.9 337.3C50.22 336.85 43.9 336.05 41.7 335.8Z" fill="#b1d4e0" stroke="#111" stroke-width="1.05" stroke-linejoin="round"/><line x1="47.4" y1="334.3" x2="207.5" y2="334.3" stroke="#111" stroke-width="1.25"/><rect x="110.7" y="332.4" width="47.2" height="3.8" fill="#000"/><rect x="131" y="332.4" width="3.6" height="3.8" fill="#fff"/>
<path d="M41.7 370.8C43.9 370.77 50.22 370.78 54.9 370.6C59.58 370.42 64.83 370.1 69.8 369.7C74.77 369.3 80.98 368.75 84.7 368.2C88.42 367.65 89.62 367.02 92.1 366.4C94.58 365.78 97.12 365.07 99.6 364.5C102.08 363.93 104.52 363.37 107 363C109.48 362.63 112.02 362.5 114.5 362.3C116.98 362.1 119.43 361.98 121.9 361.8C124.37 361.62 125.95 361.57 129.3 361.2C132.65 360.83 138.65 360.05 142 359.6C145.35 359.15 147.17 358.73 149.4 358.5C151.63 358.27 152.92 358.02 155.4 358.2C157.88 358.38 161.57 359 164.3 359.6C167.03 360.2 169.32 361.1 171.8 361.8C174.28 362.5 176.72 363.18 179.2 363.8C181.68 364.42 184.22 364.93 186.7 365.5C189.18 366.07 191.62 366.62 194.1 367.2C196.58 367.78 199.12 368.45 201.6 369C204.08 369.55 206.77 370.18 209 370.5C211.23 370.82 211.52 370.78 215 370.9C218.48 371.02 227.42 371.15 229.9 371.2L229.9 371.2C227.42 371.25 218.48 371.38 215 371.5C211.52 371.62 211.23 371.58 209 371.9C206.77 372.22 204.08 372.85 201.6 373.4C199.12 373.95 196.58 374.62 194.1 375.2C191.62 375.78 189.18 376.33 186.7 376.9C184.22 377.47 181.68 377.98 179.2 378.6C176.72 379.22 174.28 379.9 171.8 380.6C169.32 381.3 167.03 382.2 164.3 382.8C161.57 383.4 157.88 384.02 155.4 384.2C152.92 384.38 151.63 384.13 149.4 383.9C147.17 383.67 145.35 383.25 142 382.8C138.65 382.35 132.65 381.57 129.3 381.2C125.95 380.83 124.37 380.78 121.9 380.6C119.43 380.42 116.98 380.3 114.5 380.1C112.02 379.9 109.48 379.77 107 379.4C104.52 379.03 102.08 378.47 99.6 377.9C97.12 377.33 94.58 376.62 92.1 376C89.62 375.38 88.42 374.75 84.7 374.2C80.98 373.65 74.77 373.1 69.8 372.7C64.83 372.3 59.58 371.98 54.9 371.8C50.22 371.62 43.9 371.63 41.7 371.6Z" fill="#b1d4e0" stroke="#111" stroke-width="1.05" stroke-linejoin="round"/><line x1="41.7" y1="371.2" x2="212" y2="371.2" stroke="#111" stroke-width="1.25"/><rect x="114" y="369.3" width="52.9" height="3.8" fill="#000"/><rect x="141.7" y="369.3" width="3.6" height="3.8" fill="#fff"/>
<path d="M41.7 407.9C45.13 407.87 56.38 407.85 62.3 407.7C68.22 407.55 73.47 407.37 77.2 407C80.93 406.63 80.97 406.25 84.7 405.5C88.43 404.75 94.63 403.37 99.6 402.5C104.57 401.63 109.55 400.97 114.5 400.3C119.45 399.63 124.72 399.12 129.3 398.5C133.88 397.88 138.65 397.12 142 396.6C145.35 396.08 146.92 395.77 149.4 395.4C151.88 395.03 154.42 394.7 156.9 394.4C159.38 394.1 162.07 393.73 164.3 393.6C166.53 393.47 168.07 393.3 170.3 393.6C172.53 393.9 174.97 394.4 177.7 395.4C180.43 396.4 183.97 398.28 186.7 399.6C189.43 400.92 191.62 402.23 194.1 403.3C196.58 404.37 199.37 405.3 201.6 406C203.83 406.7 205.6 407.18 207.5 407.5C209.4 407.82 209.45 407.78 213 407.9C216.55 408.02 226.17 408.15 228.8 408.2L228.8 408.2C226.17 408.25 216.55 408.38 213 408.5C209.45 408.62 209.4 408.58 207.5 408.9C205.6 409.22 203.83 409.7 201.6 410.4C199.37 411.1 196.58 412.03 194.1 413.1C191.62 414.17 189.43 415.48 186.7 416.8C183.97 418.12 180.43 420 177.7 421C174.97 422 172.53 422.5 170.3 422.8C168.07 423.1 166.53 422.93 164.3 422.8C162.07 422.67 159.38 422.3 156.9 422C154.42 421.7 151.88 421.37 149.4 421C146.92 420.63 145.35 420.32 142 419.8C138.65 419.28 133.88 418.52 129.3 417.9C124.72 417.28 119.45 416.77 114.5 416.1C109.55 415.43 104.57 414.77 99.6 413.9C94.63 413.03 88.43 411.65 84.7 410.9C80.97 410.15 80.93 409.77 77.2 409.4C73.47 409.03 68.22 408.85 62.3 408.7C56.38 408.55 45.13 408.53 41.7 408.5Z" fill="#b1d4e0" stroke="#111" stroke-width="1.05" stroke-linejoin="round"/><line x1="41.7" y1="408.2" x2="210" y2="408.2" stroke="#111" stroke-width="1.25"/><rect x="126.8" y="406.3" width="47.2" height="3.8" fill="#000"/><rect x="152.1" y="406.3" width="3.6" height="3.8" fill="#fff"/>
<path d="M41.7 444.4C43.9 444.28 51.47 443.98 54.9 443.7C58.33 443.42 59.82 443.15 62.3 442.7C64.78 442.25 67.32 441.65 69.8 441C72.28 440.35 74.72 439.52 77.2 438.8C79.68 438.08 82.22 437.32 84.7 436.7C87.18 436.08 89.62 435.55 92.1 435.1C94.58 434.65 97.12 434.33 99.6 434C102.08 433.67 104.52 433.4 107 433.1C109.48 432.8 112.27 432.37 114.5 432.2C116.73 432.03 117.93 432.05 120.4 432.1C122.87 432.15 125.7 432.13 129.3 432.5C132.9 432.87 138.65 433.67 142 434.3C145.35 434.93 146.92 435.55 149.4 436.3C151.88 437.05 154.42 438.07 156.9 438.8C159.38 439.53 161.82 440.13 164.3 440.7C166.78 441.27 169.32 441.77 171.8 442.2C174.28 442.63 176.72 442.97 179.2 443.3C181.68 443.63 184.22 443.97 186.7 444.2C189.18 444.43 189.22 444.53 194.1 444.7C198.98 444.87 212.35 445.12 216 445.2L216 445.2C212.35 445.28 198.98 445.53 194.1 445.7C189.22 445.87 189.18 445.97 186.7 446.2C184.22 446.43 181.68 446.77 179.2 447.1C176.72 447.43 174.28 447.77 171.8 448.2C169.32 448.63 166.78 449.13 164.3 449.7C161.82 450.27 159.38 450.87 156.9 451.6C154.42 452.33 151.88 453.35 149.4 454.1C146.92 454.85 145.35 455.47 142 456.1C138.65 456.73 132.9 457.53 129.3 457.9C125.7 458.27 122.87 458.25 120.4 458.3C117.93 458.35 116.73 458.37 114.5 458.2C112.27 458.03 109.48 457.6 107 457.3C104.52 457 102.08 456.73 99.6 456.4C97.12 456.07 94.58 455.75 92.1 455.3C89.62 454.85 87.18 454.32 84.7 453.7C82.22 453.08 79.68 452.32 77.2 451.6C74.72 450.88 72.28 450.05 69.8 449.4C67.32 448.75 64.78 448.15 62.3 447.7C59.82 447.25 58.33 446.98 54.9 446.7C51.47 446.42 43.9 446.12 41.7 446Z" fill="#b1d4e0" stroke="#111" stroke-width="1.05" stroke-linejoin="round"/><line x1="41.7" y1="445.2" x2="197" y2="445.2" stroke="#111" stroke-width="1.25"/><rect x="94.3" y="443.3" width="48.4" height="3.8" fill="#000"/><rect x="117.9" y="443.3" width="3.6" height="3.8" fill="#fff"/>
<path d="M41.7 480.8C42.65 480.63 45.2 480.17 47.4 479.8C49.6 479.43 51.17 479.05 54.9 478.6C58.63 478.15 66.08 477.48 69.8 477.1C73.52 476.72 74.72 476.72 77.2 476.3C79.68 475.88 82.22 475.28 84.7 474.6C87.18 473.92 89.62 472.95 92.1 472.2C94.58 471.45 97.12 470.7 99.6 470.1C102.08 469.5 104.52 468.92 107 468.6C109.48 468.28 112.02 468.15 114.5 468.2C116.98 468.25 119.43 468.53 121.9 468.9C124.37 469.27 126.82 469.9 129.3 470.4C131.78 470.9 134.68 471.53 136.8 471.9C138.92 472.27 139.9 472.43 142 472.6C144.1 472.77 147.42 472.77 149.4 472.9C151.38 473.03 152.15 473.02 153.9 473.4C155.65 473.78 157.92 474.53 159.9 475.2C161.88 475.87 163.82 476.72 165.8 477.4C167.78 478.08 169.57 478.68 171.8 479.3C174.03 479.92 176.77 480.6 179.2 481.1C181.63 481.6 185.2 482.1 186.4 482.3L186.4 482.3C185.2 482.5 181.63 483 179.2 483.5C176.77 484 174.03 484.68 171.8 485.3C169.57 485.92 167.78 486.52 165.8 487.2C163.82 487.88 161.88 488.73 159.9 489.4C157.92 490.07 155.65 490.82 153.9 491.2C152.15 491.58 151.38 491.57 149.4 491.7C147.42 491.83 144.1 491.83 142 492C139.9 492.17 138.92 492.33 136.8 492.7C134.68 493.07 131.78 493.7 129.3 494.2C126.82 494.7 124.37 495.33 121.9 495.7C119.43 496.07 116.98 496.35 114.5 496.4C112.02 496.45 109.48 496.32 107 496C104.52 495.68 102.08 495.1 99.6 494.5C97.12 493.9 94.58 493.15 92.1 492.4C89.62 491.65 87.18 490.68 84.7 490C82.22 489.32 79.68 488.72 77.2 488.3C74.72 487.88 73.52 487.88 69.8 487.5C66.08 487.12 58.63 486.45 54.9 486C51.17 485.55 49.6 485.17 47.4 484.8C45.2 484.43 42.65 483.97 41.7 483.8Z" fill="#b1d4e0" stroke="#111" stroke-width="1.05" stroke-linejoin="round"/><line x1="51.2" y1="482.3" x2="161.1" y2="482.3" stroke="#111" stroke-width="1.25"/><rect x="95.8" y="480.4" width="43.2" height="3.8" fill="#000"/><rect x="116.2" y="480.4" width="3.6" height="3.8" fill="#fff"/>
</g>
<g clip-path="url(#cpe)">
<path d="M390.2 297.45C390.95 297.23 392.95 296.7 394.7 296.15C396.45 295.6 398.47 294.78 400.7 294.15C402.93 293.52 405.62 292.85 408.1 292.35C410.58 291.85 413.12 291.47 415.6 291.15C418.08 290.83 420.52 290.68 423 290.45C425.48 290.22 428.02 290.07 430.5 289.75C432.98 289.43 435.67 288.83 437.9 288.55C440.13 288.27 441.67 287.93 443.9 288.05C446.13 288.17 449.2 288.65 451.3 289.25C453.4 289.85 455.05 290.87 456.5 291.65C457.95 292.43 459.42 293.57 460 293.95L460 300.95C459.42 301.33 457.95 302.47 456.5 303.25C455.05 304.03 453.4 305.05 451.3 305.65C449.2 306.25 446.13 306.73 443.9 306.85C441.67 306.97 440.13 306.63 437.9 306.35C435.67 306.07 432.98 305.47 430.5 305.15C428.02 304.83 425.48 304.68 423 304.45C420.52 304.22 418.08 304.07 415.6 303.75C413.12 303.43 410.58 303.05 408.1 302.55C405.62 302.05 402.93 301.38 400.7 300.75C398.47 300.12 396.45 299.3 394.7 298.75C392.95 298.2 390.95 297.67 390.2 297.45Z" fill="#b1d4e0" stroke="#111" stroke-width="1.05" stroke-linejoin="round"/><line x1="411.8" y1="297.45" x2="449.8" y2="297.45" stroke="#111" stroke-width="1.25"/><rect x="418.2" y="295.55" width="29.8" height="3.8" fill="#000"/><rect x="435.6" y="295.55" width="3.6" height="3.8" fill="#fff"/>
<path d="M390.2 334.45C391.95 334.2 397.72 333.37 400.7 332.95C403.68 332.53 405.62 332.27 408.1 331.95C410.58 331.63 413.37 331.38 415.6 331.05C417.83 330.72 419.52 330.62 421.5 329.95C423.48 329.28 425.52 328.33 427.5 327.05C429.48 325.77 431.42 323.5 433.4 322.25C435.38 321 437.42 319.8 439.4 319.55C441.38 319.3 443.32 319.75 445.3 320.75C447.28 321.75 449.43 323.93 451.3 325.55C453.17 327.17 455.22 329.3 456.5 330.45C457.78 331.6 458.58 332.12 459 332.45L459 336.45C458.58 336.78 457.78 337.3 456.5 338.45C455.22 339.6 453.17 341.73 451.3 343.35C449.43 344.97 447.28 347.15 445.3 348.15C443.32 349.15 441.38 349.6 439.4 349.35C437.42 349.1 435.38 347.9 433.4 346.65C431.42 345.4 429.48 343.13 427.5 341.85C425.52 340.57 423.48 339.62 421.5 338.95C419.52 338.28 417.83 338.18 415.6 337.85C413.37 337.52 410.58 337.27 408.1 336.95C405.62 336.63 403.68 336.37 400.7 335.95C397.72 335.53 391.95 334.7 390.2 334.45Z" fill="#b1d4e0" stroke="#111" stroke-width="1.05" stroke-linejoin="round"/><line x1="412.6" y1="334.45" x2="452.8" y2="334.45" stroke="#111" stroke-width="1.25"/><rect x="430" y="332.55" width="16.1" height="3.8" fill="#000"/><rect x="434.5" y="332.55" width="3.6" height="3.8" fill="#fff"/>
<path d="M293 371.35C299.17 371.3 319.5 371.17 330 371.05C340.5 370.93 347.95 370.73 356 370.65C364.05 370.57 372.1 370.68 378.3 370.55C384.5 370.42 389.47 370.13 393.2 369.85C396.93 369.57 398.22 369.27 400.7 368.85C403.18 368.43 405.62 367.85 408.1 367.35C410.58 366.85 413.12 366.3 415.6 365.85C418.08 365.4 420.52 365 423 364.65C425.48 364.3 428.52 363.92 430.5 363.75C432.48 363.58 432.92 363.55 434.9 363.65C436.88 363.75 439.92 363.98 442.4 364.35C444.88 364.72 447.45 365.3 449.8 365.85C452.15 366.4 454.8 367.15 456.5 367.65C458.2 368.15 459.42 368.65 460 368.85L460 373.85C459.42 374.05 458.2 374.55 456.5 375.05C454.8 375.55 452.15 376.3 449.8 376.85C447.45 377.4 444.88 377.98 442.4 378.35C439.92 378.72 436.88 378.95 434.9 379.05C432.92 379.15 432.48 379.12 430.5 378.95C428.52 378.78 425.48 378.4 423 378.05C420.52 377.7 418.08 377.3 415.6 376.85C413.12 376.4 410.58 375.85 408.1 375.35C405.62 374.85 403.18 374.27 400.7 373.85C398.22 373.43 396.93 373.13 393.2 372.85C389.47 372.57 384.5 372.28 378.3 372.15C372.1 372.02 364.05 372.13 356 372.05C347.95 371.97 340.5 371.77 330 371.65C319.5 371.53 299.17 371.4 293 371.35Z" fill="#b1d4e0" stroke="#111" stroke-width="1.05" stroke-linejoin="round"/><line x1="376.8" y1="371.35" x2="456.5" y2="371.35" stroke="#111" stroke-width="1.25"/><rect x="412.1" y="369.45" width="29.8" height="3.8" fill="#000"/><rect x="427.2" y="369.45" width="3.6" height="3.8" fill="#fff"/>
<path d="M300.5 408.35C305.42 408.28 320.75 408.08 330 407.95C339.25 407.82 349.18 407.73 356 407.55C362.82 407.37 365.93 407.13 370.9 406.85C375.87 406.57 382.08 406.22 385.8 405.85C389.52 405.48 390.72 405.05 393.2 404.65C395.68 404.25 398.22 403.83 400.7 403.45C403.18 403.07 405.62 402.65 408.1 402.35C410.58 402.05 413.37 401.82 415.6 401.65C417.83 401.48 419.02 401.3 421.5 401.35C423.98 401.4 427.77 401.65 430.5 401.95C433.23 402.25 435.43 402.7 437.9 403.15C440.37 403.6 442.82 404.08 445.3 404.65C447.78 405.22 450.93 406.1 452.8 406.55C454.67 407 455.3 407.13 456.5 407.35C457.7 407.57 459.42 407.77 460 407.85L460 408.85C459.42 408.93 457.7 409.13 456.5 409.35C455.3 409.57 454.67 409.7 452.8 410.15C450.93 410.6 447.78 411.48 445.3 412.05C442.82 412.62 440.37 413.1 437.9 413.55C435.43 414 433.23 414.45 430.5 414.75C427.77 415.05 423.98 415.3 421.5 415.35C419.02 415.4 417.83 415.22 415.6 415.05C413.37 414.88 410.58 414.65 408.1 414.35C405.62 414.05 403.18 413.63 400.7 413.25C398.22 412.87 395.68 412.45 393.2 412.05C390.72 411.65 389.52 411.22 385.8 410.85C382.08 410.48 375.87 410.13 370.9 409.85C365.93 409.57 362.82 409.33 356 409.15C349.18 408.97 339.25 408.88 330 408.75C320.75 408.62 305.42 408.42 300.5 408.35Z" fill="#b1d4e0" stroke="#111" stroke-width="1.05" stroke-linejoin="round"/><line x1="360.5" y1="408.35" x2="456.5" y2="408.35" stroke="#111" stroke-width="1.25"/><rect x="396.9" y="406.45" width="36.1" height="3.8" fill="#000"/><rect x="416.1" y="406.45" width="3.6" height="3.8" fill="#fff"/>
<path d="M319.5 445.35C323.78 445.27 339.43 445.12 345.2 444.85C350.97 444.58 351.12 444.18 354.1 443.75C357.08 443.32 360.12 442.68 363.1 442.25C366.08 441.82 368.65 441.57 372 441.15C375.35 440.73 379.48 440.13 383.2 439.75C386.92 439.37 390.95 439.15 394.3 438.85C397.65 438.55 400.87 438.13 403.3 437.95C405.73 437.77 406.67 437.6 408.9 437.75C411.13 437.9 413.92 438.18 416.7 438.85C419.48 439.52 422.63 440.88 425.6 441.75C428.57 442.62 431.52 443.53 434.5 444.05C437.48 444.57 439.83 444.67 443.5 444.85C447.17 445.03 454.33 445.1 456.5 445.15L456.5 445.55C454.33 445.6 447.17 445.67 443.5 445.85C439.83 446.03 437.48 446.13 434.5 446.65C431.52 447.17 428.57 448.08 425.6 448.95C422.63 449.82 419.48 451.18 416.7 451.85C413.92 452.52 411.13 452.8 408.9 452.95C406.67 453.1 405.73 452.93 403.3 452.75C400.87 452.57 397.65 452.15 394.3 451.85C390.95 451.55 386.92 451.33 383.2 450.95C379.48 450.57 375.35 449.97 372 449.55C368.65 449.13 366.08 448.88 363.1 448.45C360.12 448.02 357.08 447.38 354.1 446.95C351.12 446.52 350.97 446.12 345.2 445.85C339.43 445.58 323.78 445.43 319.5 445.35Z" fill="#b1d4e0" stroke="#111" stroke-width="1.05" stroke-linejoin="round"/><line x1="340" y1="445.35" x2="440" y2="445.35" stroke="#111" stroke-width="1.25"/><rect x="379.2" y="443.45" width="34.8" height="3.8" fill="#000"/><rect x="395.9" y="443.45" width="3.6" height="3.8" fill="#fff"/>
<path d="M347.9 482.45C349.32 482.3 353.87 482 356.4 481.55C358.93 481.1 360.5 480.6 363.1 479.75C365.7 478.9 369.03 477.53 372 476.45C374.97 475.37 378.3 473.92 380.9 473.25C383.5 472.58 384.98 472.3 387.6 472.45C390.22 472.6 393.98 473.75 396.6 474.15C399.22 474.55 401.07 474.77 403.3 474.85C405.53 474.93 407.77 474.38 410 474.65C412.23 474.92 414.47 475.72 416.7 476.45C418.93 477.18 421.17 478.23 423.4 479.05C425.63 479.87 427.87 480.78 430.1 481.35C432.33 481.92 435.68 482.27 436.8 482.45L436.8 482.45C435.68 482.63 432.33 482.98 430.1 483.55C427.87 484.12 425.63 485.03 423.4 485.85C421.17 486.67 418.93 487.72 416.7 488.45C414.47 489.18 412.23 489.98 410 490.25C407.77 490.52 405.53 489.97 403.3 490.05C401.07 490.13 399.22 490.35 396.6 490.75C393.98 491.15 390.22 492.3 387.6 492.45C384.98 492.6 383.5 492.32 380.9 491.65C378.3 490.98 374.97 489.53 372 488.45C369.03 487.37 365.7 486 363.1 485.15C360.5 484.3 358.93 483.8 356.4 483.35C353.87 482.9 349.32 482.6 347.9 482.45Z" fill="#b1d4e0" stroke="#111" stroke-width="1.05" stroke-linejoin="round"/><line x1="365.3" y1="482.45" x2="420" y2="482.45" stroke="#111" stroke-width="1.25"/><rect x="384.3" y="480.55" width="27.2" height="3.8" fill="#000"/><rect x="389.2" y="480.55" width="3.6" height="3.8" fill="#fff"/>
</g>
<g clip-path="url(#cpf)">
<path d="M505 297.5C506.12 297.28 509.6 296.75 511.7 296.2C513.8 295.65 515.62 294.95 517.6 294.2C519.58 293.45 521.6 292.57 523.6 291.7C525.6 290.83 527.62 289.82 529.6 289C531.58 288.18 533.52 287.42 535.5 286.8C537.48 286.18 539.52 285.68 541.5 285.3C543.48 284.92 545.42 284.5 547.4 284.5C549.38 284.5 551.42 284.87 553.4 285.3C555.38 285.73 557.32 286.43 559.3 287.1C561.28 287.77 563.18 288.5 565.3 289.3C567.42 290.1 569.88 291.13 572 291.9C574.12 292.67 576.02 293.43 578 293.9C579.98 294.37 581.18 294.57 583.9 294.7C586.62 294.83 591.32 294.7 594.3 294.7C597.28 294.7 599.32 294.6 601.8 294.7C604.28 294.8 606.72 295.08 609.2 295.3C611.68 295.52 614.22 295.75 616.7 296C619.18 296.25 621.62 296.55 624.1 296.8C626.58 297.05 630.35 297.38 631.6 297.5L631.6 297.5C630.35 297.62 626.58 297.95 624.1 298.2C621.62 298.45 619.18 298.75 616.7 299C614.22 299.25 611.68 299.48 609.2 299.7C606.72 299.92 604.28 300.2 601.8 300.3C599.32 300.4 597.28 300.3 594.3 300.3C591.32 300.3 586.62 300.17 583.9 300.3C581.18 300.43 579.98 300.63 578 301.1C576.02 301.57 574.12 302.33 572 303.1C569.88 303.87 567.42 304.9 565.3 305.7C563.18 306.5 561.28 307.23 559.3 307.9C557.32 308.57 555.38 309.27 553.4 309.7C551.42 310.13 549.38 310.5 547.4 310.5C545.42 310.5 543.48 310.08 541.5 309.7C539.52 309.32 537.48 308.82 535.5 308.2C533.52 307.58 531.58 306.82 529.6 306C527.62 305.18 525.6 304.17 523.6 303.3C521.6 302.43 519.58 301.55 517.6 300.8C515.62 300.05 513.8 299.35 511.7 298.8C509.6 298.25 506.12 297.72 505 297.5Z" fill="#b1d4e0" stroke="#111" stroke-width="1.05" stroke-linejoin="round"/><line x1="535.2" y1="297.5" x2="559.3" y2="297.5" stroke="#111" stroke-width="1.25"/><rect x="539.2" y="295.6" width="20.1" height="3.8" fill="#000"/><rect x="547.5" y="295.6" width="3.6" height="3.8" fill="#fff"/>
<path d="M495.3 334.5C496.55 334.33 500.32 333.95 502.8 333.5C505.28 333.05 507.73 332.38 510.2 331.8C512.67 331.22 515.37 330.72 517.6 330C519.83 329.28 521.6 328.48 523.6 327.5C525.6 326.52 527.62 325.17 529.6 324.1C531.58 323.03 533.52 321.85 535.5 321.1C537.48 320.35 540 319.9 541.5 319.6C543 319.3 543.02 319.17 544.5 319.3C545.98 319.43 548.42 319.85 550.4 320.4C552.38 320.95 554.42 321.73 556.4 322.6C558.38 323.47 560.32 324.67 562.3 325.6C564.28 326.53 566.68 327.53 568.3 328.2C569.92 328.87 570.38 329.05 572 329.6C573.62 330.15 576.02 330.85 578 331.5C579.98 332.15 582.17 333.07 583.9 333.5C585.63 333.93 585.72 333.98 588.4 334.1C591.08 334.22 595.28 334.27 600 334.2C604.72 334.13 612.53 333.7 616.7 333.7C620.87 333.7 622.08 334.07 625 334.2C627.92 334.33 632.67 334.45 634.2 334.5L634.2 334.5C632.67 334.55 627.92 334.67 625 334.8C622.08 334.93 620.87 335.3 616.7 335.3C612.53 335.3 604.72 334.87 600 334.8C595.28 334.73 591.08 334.78 588.4 334.9C585.72 335.02 585.63 335.07 583.9 335.5C582.17 335.93 579.98 336.85 578 337.5C576.02 338.15 573.62 338.85 572 339.4C570.38 339.95 569.92 340.13 568.3 340.8C566.68 341.47 564.28 342.47 562.3 343.4C560.32 344.33 558.38 345.53 556.4 346.4C554.42 347.27 552.38 348.05 550.4 348.6C548.42 349.15 545.98 349.57 544.5 349.7C543.02 349.83 543 349.7 541.5 349.4C540 349.1 537.48 348.65 535.5 347.9C533.52 347.15 531.58 345.97 529.6 344.9C527.62 343.83 525.6 342.48 523.6 341.5C521.6 340.52 519.83 339.72 517.6 339C515.37 338.28 512.67 337.78 510.2 337.2C507.73 336.62 505.28 335.95 502.8 335.5C500.32 335.05 496.55 334.67 495.3 334.5Z" fill="#b1d4e0" stroke="#111" stroke-width="1.05" stroke-linejoin="round"/><line x1="511.7" y1="334.5" x2="578" y2="334.5" stroke="#111" stroke-width="1.25"/><rect x="534.3" y="332.6" width="23.5" height="3.8" fill="#000"/><rect x="542.7" y="332.6" width="3.6" height="3.8" fill="#fff"/>
<path d="M473 370.9C474.98 370.77 481.68 370.38 484.9 370.1C488.12 369.82 489.82 369.53 492.3 369.2C494.78 368.87 497.32 368.48 499.8 368.1C502.28 367.72 504.72 367.32 507.2 366.9C509.68 366.48 512.22 366.22 514.7 365.6C517.18 364.98 519.62 363.95 522.1 363.2C524.58 362.45 527.12 361.6 529.6 361.1C532.08 360.6 534.52 360.2 537 360.2C539.48 360.2 542.02 360.6 544.5 361.1C546.98 361.6 549.43 362.53 551.9 363.2C554.37 363.87 556.82 364.53 559.3 365.1C561.78 365.67 564.68 366.22 566.8 366.6C568.92 366.98 569.9 367.07 572 367.4C574.1 367.73 576.92 368.2 579.4 368.6C581.88 369 584.42 369.45 586.9 369.8C589.38 370.15 591.82 370.5 594.3 370.7C596.78 370.9 592.03 370.88 601.8 371C611.57 371.12 644.38 371.33 652.9 371.4L652.9 371.4C644.38 371.47 611.57 371.68 601.8 371.8C592.03 371.92 596.78 371.9 594.3 372.1C591.82 372.3 589.38 372.65 586.9 373C584.42 373.35 581.88 373.8 579.4 374.2C576.92 374.6 574.1 375.07 572 375.4C569.9 375.73 568.92 375.82 566.8 376.2C564.68 376.58 561.78 377.13 559.3 377.7C556.82 378.27 554.37 378.93 551.9 379.6C549.43 380.27 546.98 381.2 544.5 381.7C542.02 382.2 539.48 382.6 537 382.6C534.52 382.6 532.08 382.2 529.6 381.7C527.12 381.2 524.58 380.35 522.1 379.6C519.62 378.85 517.18 377.82 514.7 377.2C512.22 376.58 509.68 376.32 507.2 375.9C504.72 375.48 502.28 375.08 499.8 374.7C497.32 374.32 494.78 373.93 492.3 373.6C489.82 373.27 488.12 372.98 484.9 372.7C481.68 372.42 474.98 372.03 473 371.9Z" fill="#b1d4e0" stroke="#111" stroke-width="1.05" stroke-linejoin="round"/><line x1="493.8" y1="371.4" x2="583.9" y2="371.4" stroke="#111" stroke-width="1.25"/><rect x="524.8" y="369.5" width="28.9" height="3.8" fill="#000"/><rect x="536" y="369.5" width="3.6" height="3.8" fill="#fff"/>
<path d="M473 406.5C474.98 406.4 480.43 406.15 484.9 405.9C489.37 405.65 496.08 405.28 499.8 405C503.52 404.72 504.72 404.5 507.2 404.2C509.68 403.9 512.22 403.62 514.7 403.2C517.18 402.78 519.62 402.2 522.1 401.7C524.58 401.2 527.12 400.57 529.6 400.2C532.08 399.83 534.52 399.55 537 399.5C539.48 399.45 542.02 399.58 544.5 399.9C546.98 400.22 549.43 400.85 551.9 401.4C554.37 401.95 556.82 402.65 559.3 403.2C561.78 403.75 564.68 404.37 566.8 404.7C568.92 405.03 568.65 405 572 405.2C575.35 405.4 581.93 405.62 586.9 405.9C591.87 406.18 596.83 406.6 601.8 406.9C606.77 407.2 612.98 407.52 616.7 407.7C620.42 407.88 619.57 407.88 624.1 408C628.63 408.12 640.6 408.33 643.9 408.4L643.9 408.4C640.6 408.47 628.63 408.68 624.1 408.8C619.57 408.92 620.42 408.92 616.7 409.1C612.98 409.28 606.77 409.6 601.8 409.9C596.83 410.2 591.87 410.62 586.9 410.9C581.93 411.18 575.35 411.4 572 411.6C568.65 411.8 568.92 411.77 566.8 412.1C564.68 412.43 561.78 413.05 559.3 413.6C556.82 414.15 554.37 414.85 551.9 415.4C549.43 415.95 546.98 416.58 544.5 416.9C542.02 417.22 539.48 417.35 537 417.3C534.52 417.25 532.08 416.97 529.6 416.6C527.12 416.23 524.58 415.6 522.1 415.1C519.62 414.6 517.18 414.02 514.7 413.6C512.22 413.18 509.68 412.9 507.2 412.6C504.72 412.3 503.52 412.08 499.8 411.8C496.08 411.52 489.37 411.15 484.9 410.9C480.43 410.65 474.98 410.4 473 410.3Z" fill="#b1d4e0" stroke="#111" stroke-width="1.05" stroke-linejoin="round"/><line x1="474.5" y1="408.4" x2="601" y2="408.4" stroke="#111" stroke-width="1.25"/><rect x="520.6" y="406.5" width="35.3" height="3.8" fill="#000"/><rect x="534.8" y="406.5" width="3.6" height="3.8" fill="#fff"/>
<path d="M473 441.1C474.98 440.9 480.43 440.1 484.9 439.9C489.37 439.7 494.83 440.1 499.8 439.9C504.77 439.7 509.73 439.07 514.7 438.7C519.67 438.33 525.88 437.8 529.6 437.7C533.32 437.6 534.52 437.82 537 438.1C539.48 438.38 542.02 438.98 544.5 439.4C546.98 439.82 549.43 440.2 551.9 440.6C554.37 441 556.82 441.37 559.3 441.8C561.78 442.23 564.68 442.87 566.8 443.2C568.92 443.53 568.65 443.63 572 443.8C575.35 443.97 581.93 444.05 586.9 444.2C591.87 444.35 596.83 444.57 601.8 444.7C606.77 444.83 610.38 444.88 616.7 445C623.02 445.12 635.87 445.33 639.7 445.4L639.7 445.4C635.87 445.47 623.02 445.68 616.7 445.8C610.38 445.92 606.77 445.97 601.8 446.1C596.83 446.23 591.87 446.45 586.9 446.6C581.93 446.75 575.35 446.83 572 447C568.65 447.17 568.92 447.27 566.8 447.6C564.68 447.93 561.78 448.57 559.3 449C556.82 449.43 554.37 449.8 551.9 450.2C549.43 450.6 546.98 450.98 544.5 451.4C542.02 451.82 539.48 452.42 537 452.7C534.52 452.98 533.32 453.2 529.6 453.1C525.88 453 519.67 452.47 514.7 452.1C509.73 451.73 504.77 451.1 499.8 450.9C494.83 450.7 489.37 451.1 484.9 450.9C480.43 450.7 474.98 449.9 473 449.7Z" fill="#b1d4e0" stroke="#111" stroke-width="1.05" stroke-linejoin="round"/><line x1="473" y1="445.4" x2="610" y2="445.4" stroke="#111" stroke-width="1.25"/><rect x="492.3" y="443.5" width="52.9" height="3.8" fill="#000"/><rect x="522.2" y="443.5" width="3.6" height="3.8" fill="#fff"/>
<path d="M473 481C473.73 480.88 475.42 480.62 477.4 480.3C479.38 479.98 482.42 479.48 484.9 479.1C487.38 478.72 489.82 478.3 492.3 478C494.78 477.7 497.32 477.5 499.8 477.3C502.28 477.1 503.48 476.93 507.2 476.8C510.92 476.67 517.13 476.47 522.1 476.5C527.07 476.53 532.03 476.82 537 477C541.97 477.18 546.07 477.38 551.9 477.6C557.73 477.82 566.17 478.15 572 478.3C577.83 478.45 583.18 478.42 586.9 478.5C590.62 478.58 591.82 478.68 594.3 478.8C596.78 478.92 599.32 479 601.8 479.2C604.28 479.4 606.72 479.75 609.2 480C611.68 480.25 614.22 480.45 616.7 480.7C619.18 480.95 621.62 481.27 624.1 481.5C626.58 481.73 627.3 481.93 631.6 482.1C635.9 482.27 646.85 482.43 649.9 482.5L649.9 482.5C646.85 482.57 635.9 482.73 631.6 482.9C627.3 483.07 626.58 483.27 624.1 483.5C621.62 483.73 619.18 484.05 616.7 484.3C614.22 484.55 611.68 484.75 609.2 485C606.72 485.25 604.28 485.6 601.8 485.8C599.32 486 596.78 486.08 594.3 486.2C591.82 486.32 590.62 486.42 586.9 486.5C583.18 486.58 577.83 486.55 572 486.7C566.17 486.85 557.73 487.18 551.9 487.4C546.07 487.62 541.97 487.82 537 488C532.03 488.18 527.07 488.47 522.1 488.5C517.13 488.53 510.92 488.33 507.2 488.2C503.48 488.07 502.28 487.9 499.8 487.7C497.32 487.5 494.78 487.3 492.3 487C489.82 486.7 487.38 486.28 484.9 485.9C482.42 485.52 479.38 485.02 477.4 484.7C475.42 484.38 473.73 484.12 473 484Z" fill="#b1d4e0" stroke="#111" stroke-width="1.05" stroke-linejoin="round"/><line x1="496.5" y1="482.5" x2="607" y2="482.5" stroke="#111" stroke-width="1.25"/><rect x="512.1" y="480.6" width="65.9" height="3.8" fill="#000"/><rect x="534.1" y="480.6" width="3.6" height="3.8" fill="#fff"/>
</g>
<rect x="41.7" y="5.6" width="199.7" height="221.5" fill="none" stroke="#3a3a3a" stroke-width="1.05"/>
<path d="M41.7 5.6h-2.4M41.7 42.52h-2.4M41.7 79.43h-2.4M41.7 116.35h-2.4M41.7 153.27h-2.4M41.7 190.18h-2.4M41.7 227.1h-2.4M41.9 227.1v2.7M113.8 227.1v2.7M185.4 227.1v2.7" stroke="#3a3a3a" stroke-width="1" fill="none"/>
<text x="37.4" y="10.45" font-size="13.5" text-anchor="end">-30</text>
<text x="37.4" y="47.37" font-size="13.5" text-anchor="end">-25</text>
<text x="37.4" y="84.28" font-size="13.5" text-anchor="end">-20</text>
<text x="37.4" y="121.2" font-size="13.5" text-anchor="end">-15</text>
<text x="37.4" y="158.12" font-size="13.5" text-anchor="end">-10</text>
<text x="37.4" y="195.03" font-size="13.5" text-anchor="end">-5</text>
<text x="37.4" y="231.05" font-size="13.5" text-anchor="end">0</text>
<text x="46.9" y="243.7" font-size="13.5" text-anchor="middle">0.01</text>
<text x="113.8" y="243.7" font-size="13.5" text-anchor="middle">0.1</text>
<text x="185.4" y="243.7" font-size="13.5" text-anchor="middle">1</text>
<rect x="256.8" y="5.8" width="199.6" height="221.45" fill="none" stroke="#3a3a3a" stroke-width="1.05"/>
<path d="M256.8 5.8h-2.4M256.8 42.71h-2.4M256.8 79.62h-2.4M256.8 116.52h-2.4M256.8 153.43h-2.4M256.8 190.34h-2.4M256.8 227.25h-2.4M277.5 227.25v2.7M321.7 227.25v2.7M365.9 227.25v2.7M410.2 227.25v2.7M454.5 227.25v2.7" stroke="#3a3a3a" stroke-width="1" fill="none"/>
<text x="275.3" y="243.7" font-size="13.5" text-anchor="middle">0.0001</text>
<text x="322.5" y="243.7" font-size="13.5" text-anchor="middle">0.001</text>
<text x="367.5" y="243.7" font-size="13.5" text-anchor="middle">0.01</text>
<text x="410.2" y="243.7" font-size="13.5" text-anchor="middle">0.1</text>
<text x="453.5" y="243.7" font-size="13.5" text-anchor="middle">1</text>
<rect x="473" y="5.9" width="199.8" height="221.5" fill="none" stroke="#3a3a3a" stroke-width="1.05"/>
<path d="M473 5.9h-2.4M473 42.82h-2.4M473 79.73h-2.4M473 116.65h-2.4M473 153.57h-2.4M473 190.48h-2.4M473 227.4h-2.4M472.8 227.4v2.7M522.8 227.4v2.7M572.8 227.4v2.7M622.6 227.4v2.7M672.6 227.4v2.7" stroke="#3a3a3a" stroke-width="1" fill="none"/>
<text x="476.1" y="243.7" font-size="13.5" text-anchor="middle">0.1</text>
<text x="521.9" y="243.7" font-size="13.5" text-anchor="middle">1</text>
<text x="572.1" y="243.7" font-size="13.5" text-anchor="middle">10</text>
<text x="621.9" y="243.7" font-size="13.5" text-anchor="middle">100</text>
<text x="669.6" y="243.7" font-size="13.5" text-anchor="middle">1000</text>
<rect x="41.7" y="278.9" width="198.8" height="221.9" fill="none" stroke="#3a3a3a" stroke-width="1.05"/>
<path d="M41.7 278.9h-2.4M41.7 315.88h-2.4M41.7 352.87h-2.4M41.7 389.85h-2.4M41.7 426.83h-2.4M41.7 463.82h-2.4M41.7 500.8h-2.4M52.9 500.8v2.7M93.8 500.8v2.7M134.6 500.8v2.7M175.4 500.8v2.7M216.3 500.8v2.7" stroke="#3a3a3a" stroke-width="1" fill="none"/>
<text x="37.4" y="283.75" font-size="13.5" text-anchor="end">-30</text>
<text x="37.4" y="320.73" font-size="13.5" text-anchor="end">-25</text>
<text x="37.4" y="357.72" font-size="13.5" text-anchor="end">-20</text>
<text x="37.4" y="394.7" font-size="13.5" text-anchor="end">-15</text>
<text x="37.4" y="431.68" font-size="13.5" text-anchor="end">-10</text>
<text x="37.4" y="468.67" font-size="13.5" text-anchor="end">-5</text>
<text x="37.4" y="502.85" font-size="13.5" text-anchor="end">0</text>
<text x="53.2" y="518.35" font-size="13.5" text-anchor="middle">10<tspan font-size="7.9" dy="-4.4">-5</tspan></text>
<text x="94.1" y="518.35" font-size="13.5" text-anchor="middle">10<tspan font-size="7.9" dy="-4.4">-4</tspan></text>
<text x="134.9" y="518.35" font-size="13.5" text-anchor="middle">10<tspan font-size="7.9" dy="-4.4">-3</tspan></text>
<text x="175.7" y="518.35" font-size="13.5" text-anchor="middle">10<tspan font-size="7.9" dy="-4.4">-2</tspan></text>
<text x="216.6" y="518.35" font-size="13.5" text-anchor="middle">10<tspan font-size="7.9" dy="-4.4">-1</tspan></text>
<rect x="256.75" y="279" width="199.45" height="222.2" fill="none" stroke="#3a3a3a" stroke-width="1.05"/>
<path d="M256.75 279h-2.4M256.75 316.03h-2.4M256.75 353.07h-2.4M256.75 390.1h-2.4M256.75 427.13h-2.4M256.75 464.17h-2.4M256.75 501.2h-2.4M256.8 501.2v2.7M296.5 501.2v2.7M336.4 501.2v2.7M376.3 501.2v2.7M416.2 501.2v2.7M456 501.2v2.7" stroke="#3a3a3a" stroke-width="1" fill="none"/>
<text x="258.2" y="518.35" font-size="13.5" text-anchor="middle">0</text>
<text x="298.1" y="518.35" font-size="13.5" text-anchor="middle">0.2</text>
<text x="338" y="518.35" font-size="13.5" text-anchor="middle">0.4</text>
<text x="377.9" y="518.35" font-size="13.5" text-anchor="middle">0.6</text>
<text x="417.8" y="518.35" font-size="13.5" text-anchor="middle">0.8</text>
<text x="454.6" y="518.35" font-size="13.5" text-anchor="middle">1</text>
<rect x="473" y="279.4" width="199.6" height="222" fill="none" stroke="#3a3a3a" stroke-width="1.05"/>
<path d="M473 279.4h-2.4M473 316.4h-2.4M473 353.4h-2.4M473 390.4h-2.4M473 427.4h-2.4M473 464.4h-2.4M473 501.4h-2.4M472.7 501.4v2.7M501.3 501.4v2.7M529.9 501.4v2.7M558.4 501.4v2.7M587 501.4v2.7M615.5 501.4v2.7M644 501.4v2.7M672.5 501.4v2.7" stroke="#3a3a3a" stroke-width="1" fill="none"/>
<text x="475.2" y="518.35" font-size="13.5" text-anchor="middle">0</text>
<text x="501.3" y="518.35" font-size="13.5" text-anchor="middle">0.5</text>
<text x="529.9" y="518.35" font-size="13.5" text-anchor="middle">1</text>
<text x="558.4" y="518.35" font-size="13.5" text-anchor="middle">1.5</text>
<text x="587" y="518.35" font-size="13.5" text-anchor="middle">2</text>
<text x="615.5" y="518.35" font-size="13.5" text-anchor="middle">2.5</text>
<text x="644" y="518.35" font-size="13.5" text-anchor="middle">3</text>
<text x="672.5" y="518.35" font-size="13.5" text-anchor="middle">3.5</text>
<text x="43.6" y="19.3" font-size="15.5" letter-spacing="0.85">(a)</text>
<text x="258.7" y="19.5" font-size="15.5" letter-spacing="0.85">(b)</text>
<text x="474.9" y="19.6" font-size="15.5" letter-spacing="0.85">(c)</text>
<text x="43.6" y="292.6" font-size="15.5" letter-spacing="0.85">(d)</text>
<text x="258.65" y="292.7" font-size="15.5" letter-spacing="0.85">(e)</text>
<text x="474.9" y="293.1" font-size="15.5" letter-spacing="1.3">(f)</text>
<text x="139.8" y="259.7" font-size="13.3" text-anchor="middle" letter-spacing="0">LWC (g m<tspan font-size="7.4" dy="-5.2">-3</tspan><tspan dy="5.2" font-size="13.3">)</tspan></text>
<text x="360.8" y="259.7" font-size="13.3" text-anchor="middle" letter-spacing="0">IWC (g m<tspan font-size="7.4" dy="-5.2">-3</tspan><tspan dy="5.2" font-size="13.3">)</tspan></text>
<text x="576.3" y="259.7" font-size="13.3" text-anchor="middle" letter-spacing="0.36">Ice/graupel conc (L<tspan font-size="7.4" dy="-5.2">-1</tspan><tspan dy="5.2" font-size="13.3">)</tspan></text>
<text x="137.9" y="534.6" font-size="13.3" text-anchor="middle" letter-spacing="0.18">R<tspan font-size="8.6">rim</tspan> (g m<tspan font-size="7.4" dy="-5.2">-3</tspan><tspan dy="5.2" font-size="13.3"> s</tspan><tspan font-size="7.4" dy="-5.2">-1</tspan><tspan dy="5.2" font-size="13.3">)</tspan></text>
<text x="356.8" y="535.6" font-size="13.3" text-anchor="middle" letter-spacing="0">X</text>
<text x="574.2" y="534.8" font-size="13.3" text-anchor="middle" letter-spacing="0">F<tspan font-size="8.6">rim</tspan></text>
<text transform="translate(10.3 119.3) rotate(-90)" font-size="13.3" text-anchor="middle" letter-spacing="0.2">Temperature (<tspan font-size="8.3" dy="-4.2">o</tspan><tspan dy="4.2">C)</tspan></text>
<text transform="translate(10.3 392.7) rotate(-90)" font-size="13.3" text-anchor="middle" letter-spacing="0.2">Temperature (<tspan font-size="8.3" dy="-4.2">o</tspan><tspan dy="4.2">C)</tspan></text>
</svg>
</body></html>
